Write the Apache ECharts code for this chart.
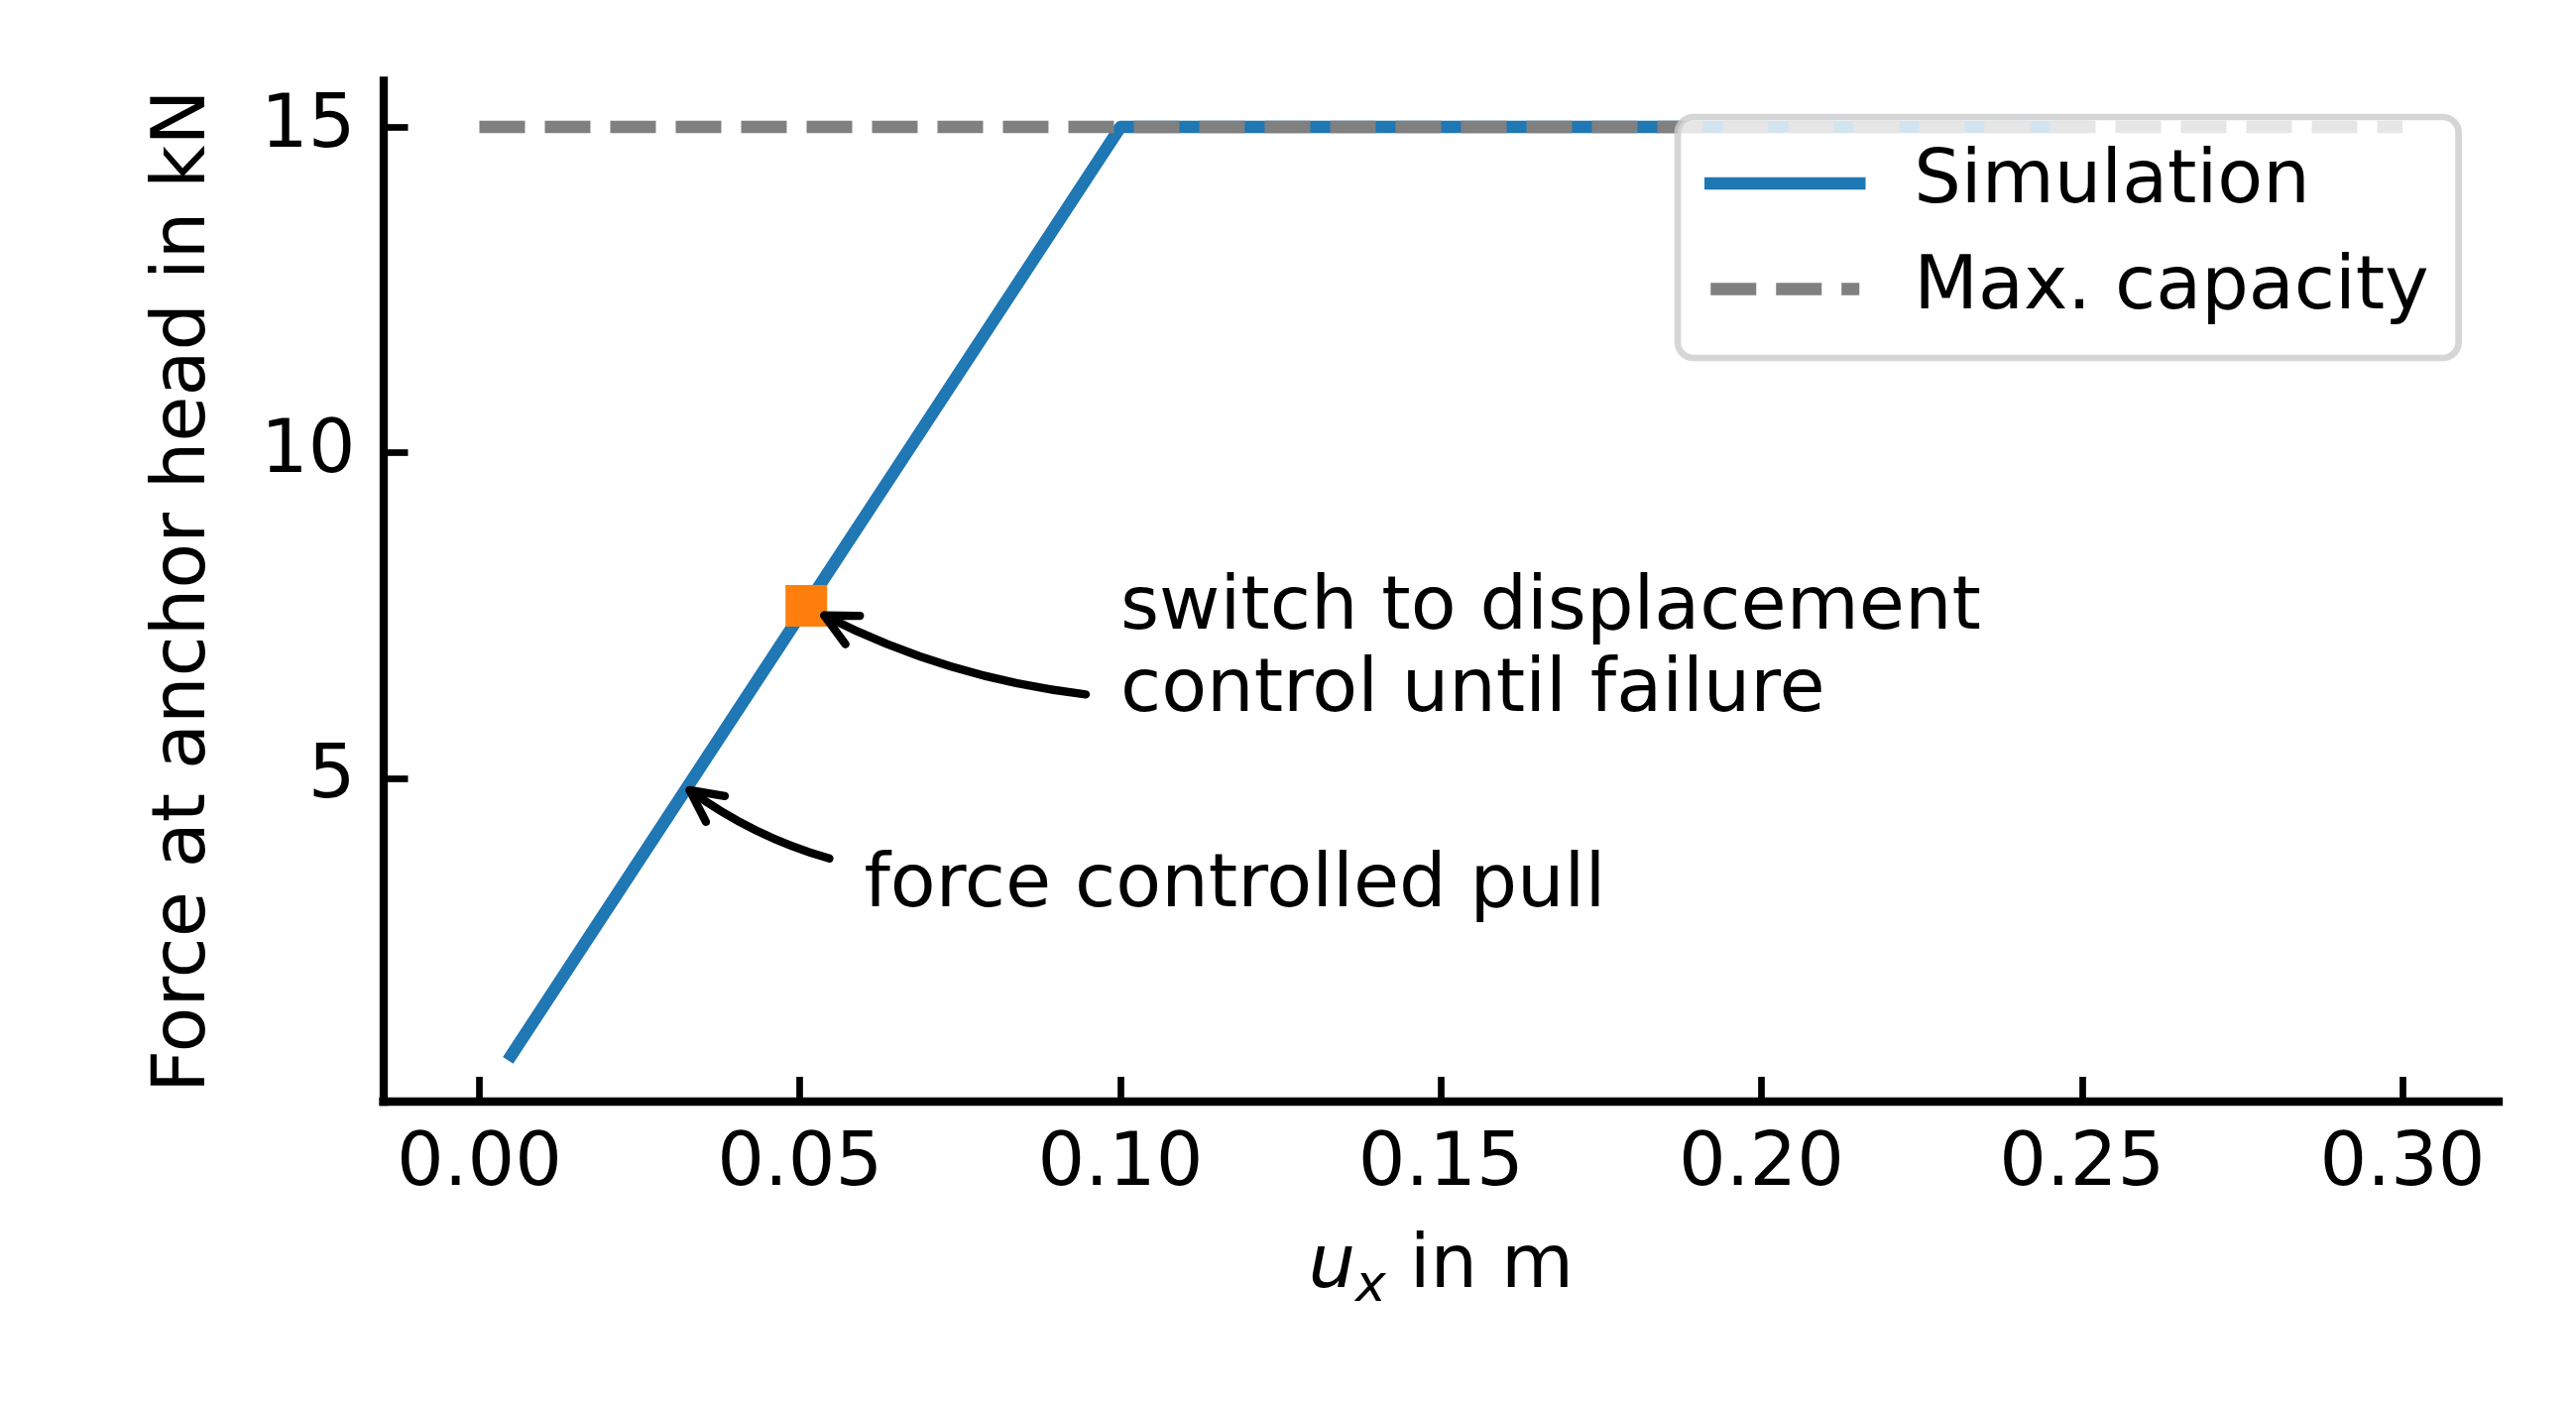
<!DOCTYPE html>
<html><head><meta charset="utf-8">
<script src="https://cdn.jsdelivr.net/npm/echarts@6/dist/echarts.min.js"></script>
<style>html,body{margin:0;padding:0;background:#fff;overflow:hidden}#c{width:2598px;height:1417px}</style>
</head><body><div id="c"></div>
<script>
// ---- data ----
const simX = [0.005, 0.051, 0.1, 0.25];
const simY = [0.75, 7.65, 15, 15];
const capX = [0, 0.3];
const capY = [15, 15];
const switchX = [0.051];
const switchY = [7.65];
const xTicks = [0, 0.05, 0.1, 0.15, 0.2, 0.25, 0.3];
const yTicks = [5, 10, 15];
const annoText = ['switch to displacement\ncontrol until failure', 'force controlled pull'];
const annoTextX = [0.1, 0.06];
const annoTextY = [6, 3];
const arrowTailX = [0.0946, 0.0546];
const arrowTailY = [6.29, 3.77];
const arrowTipX = [0.0538, 0.0328];
const arrowTipY = [7.50, 4.82];

const FONT = '"DejaVu Sans", sans-serif';
const FS = 75;
const chart = echarts.init(document.getElementById('c'), null, {renderer: 'canvas', width: 2598, height: 1417});
const zip = (xs, ys) => xs.map((x, i) => [x, ys[i]]);

const option = {
  animation: false,
  backgroundColor: '#fff',
  grid: {left: 386.5, right: 78, top: 81.3, bottom: 306, containLabel: false, outerBoundsMode: 'none'},
  xAxis: {
    type: 'value', min: -0.015, max: 0.315,
    name: '{u|u}{s|x}{n| in m}', nameLocation: 'middle', nameGap: 130,
    nameTextStyle: {
      color: '#000', fontFamily: FONT, fontSize: FS,
      rich: {
        u: {fontStyle: 'italic', fontSize: FS, fontFamily: FONT, lineHeight: FS, color: '#000'},
        s: {fontStyle: 'italic', fontSize: 52, fontFamily: FONT, lineHeight: 52, padding: [40, 0, 0, 0], color: '#000'},
        n: {fontSize: FS, fontFamily: FONT, lineHeight: FS, color: '#000'}
      }
    },
    axisLine: {show: true, onZero: false, lineStyle: {color: '#000', width: 8.3, cap: 'square'}},
    axisTick: {show: true, inside: true, length: 25, lineStyle: {color: '#000', width: 6.7}, customValues: xTicks},
    axisLabel: {show: true, margin: 27, color: '#000', fontFamily: FONT, fontSize: FS, customValues: xTicks,
      formatter: v => v.toFixed(2)},
    splitLine: {show: false}
  },
  yAxis: {
    type: 'value', min: 0.0376, max: 15.712,
    name: 'Force at anchor head in kN', nameLocation: 'middle', nameGap: 162,
    nameTextStyle: {color: '#000', fontFamily: FONT, fontSize: FS, lineHeight: FS},
    axisLine: {show: true, onZero: false, lineStyle: {color: '#000', width: 8.3, cap: 'square'}},
    axisTick: {show: true, inside: true, length: 25, lineStyle: {color: '#000', width: 6.7}, customValues: yTicks},
    axisLabel: {show: true, margin: 28, color: '#000', fontFamily: FONT, fontSize: FS, customValues: yTicks,
      formatter: v => String(Math.round(v))},
    splitLine: {show: false}
  },
  legend: {
    orient: 'vertical', left: 1692, top: 118,
    padding: [29.5, 30, 32, 27], itemGap: 31.5, itemWidth: 150, itemHeight: 75,
    borderWidth: 6.7, borderColor: 'rgba(204,204,204,0.8)', borderRadius: 16,
    backgroundColor: 'rgba(255,255,255,0.8)',
    selectedMode: false,
    lineStyle: {width: 12.5},
    itemStyle: {opacity: 0, borderWidth: 0},
    textStyle: {fontSize: FS, fontFamily: FONT, color: '#000', padding: [0, 0, 0, 50], lineHeight: 75},
    data: [
      {name: 'Simulation', lineStyle: {cap: 'square'}},
      {name: 'Max. capacity'}
    ]
  },
  series: [
    {
      name: 'Simulation', type: 'line', data: zip(simX, simY), symbol: 'none', z: 2,
      lineStyle: {color: '#1f77b4', width: 12.5, cap: 'square', join: 'round'},
      itemStyle: {color: '#1f77b4'},
      emphasis: {disabled: true}
    },
    {
      name: 'Max. capacity', type: 'line', data: zip(capX, capY), symbol: 'none', z: 3,
      lineStyle: {color: '#808080', width: 12.5, type: [46, 20], cap: 'butt'},
      itemStyle: {color: '#808080'},
      emphasis: {disabled: true}
    },
    {
      name: 'switch', type: 'scatter', data: zip(switchX, switchY), symbol: 'rect', symbolSize: 42, z: 5,
      itemStyle: {color: '#ff7f0e', opacity: 1},
      emphasis: {disabled: true}
    }
  ]
};
chart.setOption(option);

function px(x, y) { return chart.convertToPixel({gridIndex: 0}, [x, y]); }
const g = [];
for (let i = 0; i < annoText.length; i++) {
  const a = px(arrowTailX[i], arrowTailY[i]);
  const b = px(arrowTipX[i], arrowTipY[i]);
  const dx = b[0] - a[0], dy = b[1] - a[1];
  const rad = 0.09;
  const cp = [(a[0] + b[0]) / 2 + rad * dy, (a[1] + b[1]) / 2 - rad * dx];
  let ux = cp[0] - b[0], uy = cp[1] - b[1];
  const L = Math.hypot(ux, uy); ux /= L; uy /= L;
  const ang = 26.57 * Math.PI / 180, hl = 36;
  const arm = s => {
    const c = Math.cos(s * ang), sn = Math.sin(s * ang);
    return [b[0] + hl * (ux * c - uy * sn), b[1] + hl * (ux * sn + uy * c)];
  };
  g.push({type: 'bezierCurve', z: 10, silent: true,
    shape: {x1: a[0], y1: a[1], x2: b[0], y2: b[1], cpx1: cp[0], cpy1: cp[1]},
    style: {stroke: '#000', lineWidth: 8.3, fill: null, lineCap: 'round'}});
  g.push({type: 'polyline', z: 10, silent: true,
    shape: {points: [arm(1), b, arm(-1)]},
    style: {stroke: '#000', lineWidth: 8.3, fill: null, lineCap: 'round', lineJoin: 'round'}});
  const t = px(annoTextX[i], annoTextY[i]);
  const nLines = annoText[i].split('\n').length;
  g.push({type: 'text', z: 10, silent: true, x: t[0], y: t[1] - 22 - 41.5 - 83 * (nLines - 1),
    style: {text: annoText[i], fontSize: FS, fontFamily: FONT, fill: '#000',
      align: 'left', verticalAlign: 'top', lineHeight: 83}});
}
chart.setOption({graphic: g});
</script>
</body></html>
